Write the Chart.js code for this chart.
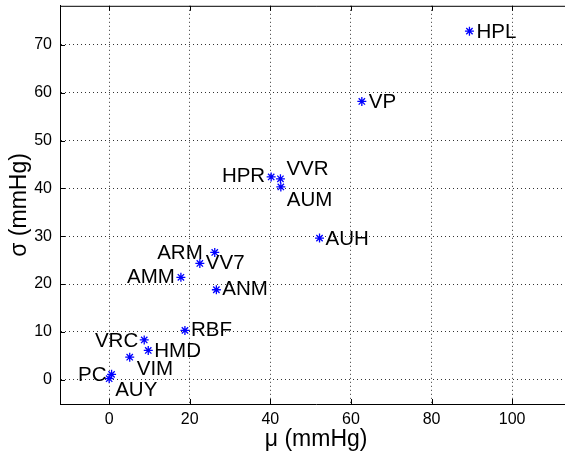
<!DOCTYPE html>
<html>
<head>
<meta charset="utf-8">
<script src="https://cdn.jsdelivr.net/npm/chart.js@4/dist/chart.umd.min.js"></script>
<style>
  html, body { margin: 0; padding: 0; overflow: hidden; background: #fff; }
  #wrap { width: 578px; height: 457px; }
</style>
</head>
<body>
<div id="wrap"><canvas id="plot"></canvas></div>
<script>
// point names, mean (mu) and std (sigma) in mmHg
const names = ['HPL', 'VP', 'HPR', 'VVR', 'AUM', 'AUH', 'ARM', 'VV7', 'AMM', 'ANM', 'RBF', 'VRC', 'HMD', 'VIM', 'PC', 'AUY'];
const muValues = [89.4, 62.7, 40.2, 42.5, 42.6, 52.2, 26.2, 22.5, 17.8, 26.6, 18.8, 8.7, 9.7, 5.1, 0.6, 0.0];
const sigmaValues = [72.9, 58.2, 42.4, 42.0, 40.3, 29.6, 26.6, 24.3, 21.4, 18.8, 10.3, 8.3, 6.1, 4.7, 1.1, 0.2];
const xTicks = [0, 20, 40, 60, 80, 100];
const yTicks = [0, 10, 20, 30, 40, 50, 60, 70];

// where each name sits relative to its marker: [dx, dy, align]
const labelPlace = {
    HPL: [7, 1, 'left'], VP: [7, 1, 'left'], HPR: [-6, -1, 'right'],
    VVR: [6, -10, 'left'], AUM: [6, 13, 'left'], AUH: [6, 1, 'left'],
    ARM: [-12, 1, 'right'], VV7: [6, 0, 'left'], AMM: [-6, 0, 'right'],
    ANM: [6, 0, 'left'], RBF: [6, 0, 'left'], VRC: [-6, 1, 'right'],
    HMD: [6, 1, 'left'], VIM: [7, 12, 'left'], PC: [-5, 1, 'right'],
    AUY: [6, 12, 'left']
};

const FONT = "'Liberation Sans', Arial, Helvetica, sans-serif";

const framePlugin = {
    id: 'frame',
    afterDraw(chart) {
        const {ctx, chartArea: a, scales: {x, y}} = chart;
        ctx.save();
        ctx.strokeStyle = '#000';
        ctx.lineWidth = 1;
        ctx.beginPath();
        ctx.moveTo(a.left, a.top + 0.5);
        ctx.lineTo(a.right, a.top + 0.5);
        xTicks.forEach(v => {
            const px = Math.round(x.getPixelForValue(v)) + 0.5;
            ctx.moveTo(px, a.bottom); ctx.lineTo(px, a.bottom - 5);
            ctx.moveTo(px, a.top); ctx.lineTo(px, a.top + 5);
        });
        yTicks.forEach(v => {
            const py = Math.round(y.getPixelForValue(v)) + 0.5;
            ctx.moveTo(a.left, py); ctx.lineTo(a.left + 5, py);
            ctx.moveTo(a.right, py); ctx.lineTo(a.right - 5, py);
        });
        ctx.stroke();
        ctx.restore();
    }
};

const namePlugin = {
    id: 'names',
    afterDatasetsDraw(chart) {
        const ctx = chart.ctx;
        const pts = chart.getDatasetMeta(0).data;
        ctx.save();
        ctx.font = '20.5px ' + FONT;
        ctx.fillStyle = '#000';
        ctx.textBaseline = 'middle';
        pts.forEach((p, i) => {
            const place = labelPlace[names[i]] || [6, 0, 'left'];
            ctx.textAlign = place[2];
            ctx.fillText(names[i], p.x + place[0], p.y + place[1]);
        });
        ctx.restore();
    }
};

// keep the plot box where it is in the original (no room kept for edge labels)
function noEdgePad(s) {
    s.paddingTop = 0; s.paddingBottom = 0;
    s.paddingLeft = 0; s.paddingRight = 0;
}

new Chart(document.getElementById('plot'), {
    type: 'scatter',
    data: {
        datasets: [{
            data: muValues.map((m, i) => ({x: m, y: sigmaValues[i]})),
            pointStyle: 'star',
            radius: 4.5,
            borderColor: '#0000ff',
            backgroundColor: '#0000ff',
            borderWidth: 1.3
        }]
    },
    options: {
        responsive: true,
        maintainAspectRatio: false,
        animation: false,
        layout: { padding: { top: 4, left: 0, right: 0, bottom: 0 } },
        plugins: { legend: { display: false }, tooltip: { enabled: false } },
        scales: {
            x: {
                type: 'linear',
                min: -12.2,
                max: 114.9,
                afterBuildTicks: s => { s.ticks = xTicks.map(v => ({value: v})); },
                afterFit: s => { s.height = 53; noEdgePad(s); },
                grid: { color: 'rgba(0,0,0,0.8)', lineWidth: 1, drawTicks: false },
                border: { display: true, color: '#000', width: 1, dash: [1, 3] },
                ticks: { color: '#000', padding: 6, font: { family: FONT, size: 16 } },
                title: { display: true, text: 'μ (mmHg)', color: '#000', padding: 4, font: { family: FONT, size: 23 } }
            },
            y: {
                type: 'linear',
                min: -5.1,
                max: 78.2,
                afterBuildTicks: s => { s.ticks = yTicks.map(v => ({value: v})); },
                afterFit: s => { s.width = 60; noEdgePad(s); },
                grid: { color: 'rgba(0,0,0,0.8)', lineWidth: 1, drawTicks: false },
                border: { display: true, color: '#000', width: 1, dash: [1, 3] },
                ticks: { color: '#000', padding: 8, font: { family: FONT, size: 16 } },
                title: { display: true, text: 'σ (mmHg)', color: '#000', padding: 6, font: { family: FONT, size: 23 } }
            }
        }
    },
    plugins: [framePlugin, namePlugin]
});
</script>
</body>
</html>
